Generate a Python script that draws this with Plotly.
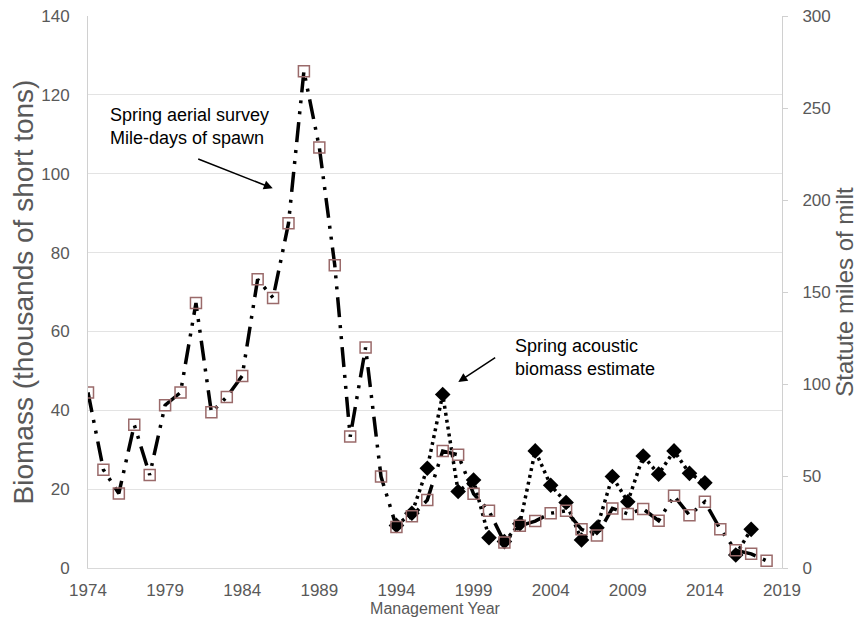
import plotly.graph_objects as go

years = list(range(1974, 2019))

# Spring aerial survey, mile-days of spawn (statute miles of milt, right axis)
milt_miles = [95.4, 53.4, 40.5, 77.8, 50.6, 88.5, 95.4, 144.0, 84.6, 93.0,
              104.4, 156.9, 146.8, 187.3, 270.0, 228.6, 164.6, 71.4, 119.8, 49.7,
              22.3, 28.1, 36.9, 63.6, 61.5, 40.3, 31.1, 13.9, 22.9, 25.5,
              29.8, 31.1, 21.0, 17.6, 32.4, 29.4, 32.1, 25.7, 39.2, 28.7,
              36.0, 21.0, 9.6, 7.7, 3.9]

# Spring acoustic biomass estimate (thousands of short tons, left axis)
acoustic_years = list(range(1994, 2018))
acoustic_biomass = [10.8, 13.9, 25.3, 44.0, 19.4, 22.3, 7.7, 6.7, 11.2, 29.7,
                    21.0, 16.6, 7.1, 10.2, 23.2, 16.8, 28.4, 23.8, 29.7, 24.0,
                    21.6, None, 3.3, 9.8]

x_ticks = list(range(1974, 2020, 5))
left_ticks = list(range(0, 141, 20))
right_ticks = list(range(0, 301, 50))

GREY = "#595959"
FONT = "Liberation Sans, Arial, sans-serif"

fig = go.Figure()

fig.add_trace(go.Scatter(
    x=years, y=milt_miles, yaxis="y2", mode="lines+markers",
    line=dict(color="black", width=3.5, dash="20px,8px,3px,8px,3px,8px"),
    marker=dict(symbol="square-open", size=11, color="#9a6a6a",
                line=dict(width=1.5, color="#9a6a6a")),
    showlegend=False,
))

fig.add_trace(go.Scatter(
    x=acoustic_years, y=acoustic_biomass, yaxis="y", mode="lines+markers",
    line=dict(color="black", width=3.5, dash="3px,4px"),
    marker=dict(symbol="diamond", size=12, color="black"),
    connectgaps=False, showlegend=False,
))

# the page body adds an 8px margin, so the figure is sized to fit the window
fig.update_layout(
    width=854, height=619,
    margin=dict(l=80, r=80, t=8, b=59),
    paper_bgcolor="white", plot_bgcolor="white",
    font=dict(family=FONT, color=GREY),
    xaxis=dict(
        range=[1974, 2019], tickvals=x_ticks, showgrid=False, automargin=False,
        showline=True, linecolor="#d9d9d9", linewidth=1, zeroline=False,
        ticks="", ticklabelstandoff=7, ticklabeloverflow="allow",
        tickfont=dict(size=17, color=GREY),
        title=dict(text="Management Year", font=dict(size=16, color=GREY), standoff=2),
    ),
    yaxis=dict(
        range=[0, 140], tickvals=left_ticks, showgrid=True, gridcolor="#e3e3e3",
        showline=True, linecolor="#d0d0d0", zeroline=False, ticks="", automargin=False,
        ticklabelstandoff=14, ticklabeloverflow="allow",
        tickfont=dict(size=17, color=GREY),
        title=dict(text="Biomass (thousands of short tons)", font=dict(size=28, color=GREY), standoff=10),
    ),
    yaxis2=dict(
        range=[0, 300], tickvals=right_ticks, overlaying="y", side="right",
        showgrid=False, showline=True, linecolor="#d0d0d0", zeroline=False,
        ticks="outside", ticklen=5, tickcolor="#d0d0d0", automargin=False,
        ticklabelstandoff=11, ticklabeloverflow="allow",
        tickfont=dict(size=17, color=GREY),
        title=dict(text="Statute miles of milt", font=dict(size=24, color=GREY), standoff=6),
    ),
)

fig.add_annotation(
    x=1975.3, y=112, xref="x", yref="y", xanchor="left", yanchor="middle",
    text="Spring aerial survey<br>Mile-days of spawn", showarrow=False, align="left",
    font=dict(size=18, color="black", family=FONT),
)
fig.add_annotation(
    x=1985.98, y=96.3, xref="x", yref="y", ax=1981.05, ay=103.9, axref="x", ayref="y",
    text="", showarrow=True, arrowhead=2, arrowsize=1.2, arrowwidth=1.5, arrowcolor="black",
)
fig.add_annotation(
    x=2001.54, y=53.3, xref="x", yref="y", xanchor="left", yanchor="middle",
    text="Spring acoustic<br>biomass estimate", showarrow=False, align="left",
    font=dict(size=18, color="black", family=FONT),
)
fig.add_annotation(
    x=1998.01, y=47.2, xref="x", yref="y", ax=2000.5, ay=53.6, axref="x", ayref="y",
    text="", showarrow=True, arrowhead=2, arrowsize=1.2, arrowwidth=1.5, arrowcolor="black",
)

fig.write_html("out.html")
